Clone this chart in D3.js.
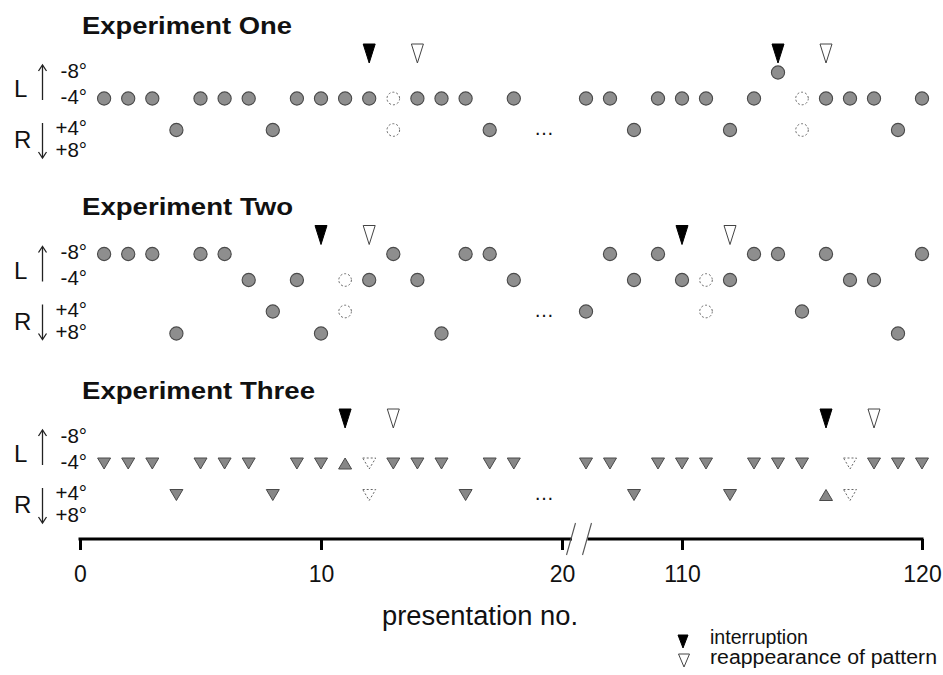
<!DOCTYPE html>
<html>
<head>
<meta charset="utf-8">
<script src="https://cdn.jsdelivr.net/npm/d3@7"></script>
<style>
  html, body { margin: 0; padding: 0; background: #fff; }
  svg { display: block; font-family: "Liberation Sans", Arial, Helvetica, sans-serif; }
</style>
</head>
<body>
<svg id="chart" width="943" height="675"></svg>
<script>
// ---------------- DATA ----------------
const experimentTitles = ["Experiment One", "Experiment Two", "Experiment Three"];
const rowLevels = [-8, -4, 4, 8];
const rowLabels = ["-8°", "-4°", "+4°", "+8°"];
const tickValues = [0, 10, 20, 110, 120];
const tickLabels = ["0", "10", "20", "110", "120"];
const xAxisTitle = "presentation no.";
const legendLabels = ["interruption", "reappearance of pattern"];

// [presentation no., position in degrees]
const exp1Shown = [
  [1,-4],[2,-4],[3,-4],[4,4],[5,-4],[6,-4],[7,-4],[8,4],[9,-4],[10,-4],[11,-4],[12,-4],
  [14,-4],[15,-4],[16,-4],[17,4],[18,-4],
  [106,-4],[107,-4],[108,4],[109,-4],[110,-4],[111,-4],[112,4],[113,-4],[114,-8],
  [116,-4],[117,-4],[118,-4],[119,4],[120,-4]
];
const exp1Missing = [[13,-4],[13,4],[115,-4],[115,4]];
const exp1Interruption = [12, 114];
const exp1Reappearance = [14, 116];

const exp2Shown = [
  [1,-8],[2,-8],[3,-8],[4,8],[5,-8],[6,-8],[7,-4],[8,4],[9,-4],[10,8],
  [12,-4],[13,-8],[14,-4],[15,8],[16,-8],[17,-8],[18,-4],
  [106,4],[107,-8],[108,-4],[109,-8],[110,-4],[112,-4],[113,-8],[114,-8],[115,4],
  [116,-8],[117,-4],[118,-4],[119,8],[120,-8]
];
const exp2Missing = [[11,-4],[11,4],[111,-4],[111,4]];
const exp2Interruption = [10, 110];
const exp2Reappearance = [12, 112];

const exp3Shown = [
  [1,-4],[2,-4],[3,-4],[4,4],[5,-4],[6,-4],[7,-4],[8,4],[9,-4],[10,-4],
  [13,-4],[14,-4],[15,-4],[16,4],[17,-4],[18,-4],
  [106,-4],[107,-4],[108,4],[109,-4],[110,-4],[111,-4],[112,4],[113,-4],[114,-4],[115,-4],
  [118,-4],[119,-4],[120,-4]
];
const exp3Reversed = [[11,-4],[116,4]];
const exp3Missing = [[12,-4],[12,4],[117,-4],[117,4]];
const exp3Interruption = [11, 116];
const exp3Reappearance = [13, 118];

const experiments = [
  {shown: exp1Shown, reversed: [], missing: exp1Missing, interruption: exp1Interruption, reappearance: exp1Reappearance, shape: "circle"},
  {shown: exp2Shown, reversed: [], missing: exp2Missing, interruption: exp2Interruption, reappearance: exp2Reappearance, shape: "circle"},
  {shown: exp3Shown, reversed: exp3Reversed, missing: exp3Missing, interruption: exp3Interruption, reappearance: exp3Reappearance, shape: "triangle"}
];

// ---------------- LAYOUT ----------------
const svg = d3.select("#chart");
const panelTop = [0, 181.5, 365];
const titleWidths = [210, 211, 233];

// broken x axis: 0..20 then 105..120
const x = d3.scaleLinear().domain([0, 20, 105, 120]).range([80, 562, 562, 922]);
const y = d3.scaleLinear().domain(rowLevels).range([72.5, 98.5, 130, 152]);

const fillGray = "#8e8e8e", strokeDark = "#4a4a4a";
const downTri = "M-6.5,-5.5L6.5,-5.5L0,5.5Z";
const upTri = "M-6.5,5.5L6.5,5.5L0,-5.5Z";
const tallTri = "M-6,-9.5L6,-9.5L0,9.5Z";

experiments.forEach((exp, i) => {
  const g = svg.append("g").attr("transform", `translate(0,${panelTop[i]})`);

  g.append("text").attr("x", 82).attr("y", 33.5)
    .attr("font-size", 24).attr("font-weight", "bold").attr("fill", "#111")
    .attr("textLength", titleWidths[i]).attr("lengthAdjust", "spacingAndGlyphs")
    .text(experimentTitles[i]);

  // L / R labels
  g.append("text").attr("x", 14).attr("y", 97).attr("font-size", 24).attr("fill", "#111").text("L");
  g.append("text").attr("x", 14).attr("y", 148).attr("font-size", 24).attr("fill", "#111").text("R");
  // arrows
  g.append("line").attr("x1", 42.5).attr("x2", 42.5).attr("y1", 100).attr("y2", 65.5)
    .attr("stroke", "#222").attr("stroke-width", 1.3);
  g.append("path").attr("d", "M38.5,71L42.5,65L46.5,71").attr("fill", "none")
    .attr("stroke", "#222").attr("stroke-width", 1.3);
  g.append("line").attr("x1", 42.5).attr("x2", 42.5).attr("y1", 123).attr("y2", 157.5)
    .attr("stroke", "#222").attr("stroke-width", 1.3);
  g.append("path").attr("d", "M38.5,152L42.5,158L46.5,152").attr("fill", "none")
    .attr("stroke", "#222").attr("stroke-width", 1.3);

  // degree labels
  g.selectAll("text.deg").data(rowLevels).join("text").attr("class", "deg")
    .attr("x", 87).attr("y", d => y(d) - 2).attr("dy", "0.36em")
    .attr("text-anchor", "end").attr("font-size", 20.5).attr("fill", "#111")
    .text((d, j) => rowLabels[j]);

  // interruption / reappearance markers
  g.selectAll("path.intr").data(exp.interruption).join("path").attr("class", "intr")
    .attr("d", tallTri).attr("transform", d => `translate(${x(d)},53.5)`)
    .attr("fill", "#000").attr("stroke", "#000");
  g.selectAll("path.reap").data(exp.reappearance).join("path").attr("class", "reap")
    .attr("d", tallTri).attr("transform", d => `translate(${x(d)},53.5)`)
    .attr("fill", "#fff").attr("stroke", "#444").attr("stroke-width", 1);

  if (exp.shape === "circle") {
    g.selectAll("circle.shown").data(exp.shown).join("circle").attr("class", "shown")
      .attr("cx", d => x(d[0])).attr("cy", d => y(d[1])).attr("r", 6.6)
      .attr("fill", fillGray).attr("stroke", strokeDark).attr("stroke-width", 1.1);
    g.selectAll("circle.miss").data(exp.missing).join("circle").attr("class", "miss")
      .attr("cx", d => x(d[0])).attr("cy", d => y(d[1])).attr("r", 6.3)
      .attr("fill", "#fff").attr("stroke", "#666").attr("stroke-width", 1)
      .attr("stroke-dasharray", "2,2");
  } else {
    g.selectAll("path.shown").data(exp.shown).join("path").attr("class", "shown")
      .attr("d", downTri).attr("transform", d => `translate(${x(d[0])},${y(d[1])})`)
      .attr("fill", "#878787").attr("stroke", strokeDark).attr("stroke-width", 1);
    g.selectAll("path.rev").data(exp.reversed).join("path").attr("class", "rev")
      .attr("d", upTri).attr("transform", d => `translate(${x(d[0])},${y(d[1])})`)
      .attr("fill", "#878787").attr("stroke", strokeDark).attr("stroke-width", 1);
    g.selectAll("path.miss").data(exp.missing).join("path").attr("class", "miss")
      .attr("d", downTri).attr("transform", d => `translate(${x(d[0])},${y(d[1])})`)
      .attr("fill", "#fff").attr("stroke", "#666").attr("stroke-width", 1)
      .attr("stroke-dasharray", "2,2");
  }

  // ellipsis for the omitted presentations
  g.append("text").attr("x", x(19.25)).attr("y", y(4) + 5)
    .attr("text-anchor", "middle").attr("font-size", 20).attr("fill", "#111").text("…");
});

// ---------------- X AXIS ----------------
const axisY = 539;
const axis = d3.axisBottom(x).tickValues(tickValues)
  .tickFormat((d, i) => tickLabels[i]).tickSize(11).tickPadding(16);
const ax = svg.append("g").attr("transform", `translate(0,${axisY})`).call(axis);
ax.select(".domain").remove();
ax.selectAll(".tick line").attr("stroke", "#000").attr("stroke-width", 3);
ax.selectAll(".tick text").attr("font-size", 23).attr("fill", "#111")
  .attr("font-family", "'Liberation Sans', Arial, sans-serif");

// axis line with break
const brk = x(20);
ax.append("line").attr("x1", x(0) - 1.5).attr("x2", brk + 10).attr("y1", 0).attr("y2", 0)
  .attr("stroke", "#000").attr("stroke-width", 3);
ax.append("line").attr("x1", brk + 25.5).attr("x2", x(120) + 1.5).attr("y1", 0).attr("y2", 0)
  .attr("stroke", "#000").attr("stroke-width", 3);
[brk + 9, brk + 25].forEach(cx => {
  ax.append("line").attr("x1", cx - 4.5).attr("y1", 16).attr("x2", cx + 4.5).attr("y2", -16)
    .attr("stroke", "#555").attr("stroke-width", 1.1);
});

svg.append("text").attr("x", 480).attr("y", 625).attr("text-anchor", "middle")
  .attr("font-size", 27).attr("fill", "#111")
  .attr("textLength", 196).attr("lengthAdjust", "spacingAndGlyphs").text(xAxisTitle);

// ---------------- LEGEND ----------------
const legend = svg.append("g");
legend.append("path").attr("d", "M-5,-6.5L5,-6.5L0,6.5Z").attr("transform", "translate(683,641.5)")
  .attr("fill", "#000").attr("stroke", "#000");
legend.append("path").attr("d", "M-5.5,-6.5L5.5,-6.5L0,6.5Z").attr("transform", "translate(684,660.5)")
  .attr("fill", "#fff").attr("stroke", "#444");
legend.append("text").attr("x", 710).attr("y", 644).attr("font-size", 19.5).attr("fill", "#111")
  .attr("textLength", 98).attr("lengthAdjust", "spacingAndGlyphs").text(legendLabels[0]);
legend.append("text").attr("x", 710).attr("y", 664).attr("font-size", 19.5).attr("fill", "#111")
  .attr("textLength", 227).attr("lengthAdjust", "spacingAndGlyphs").text(legendLabels[1]);
</script>
</body>
</html>
